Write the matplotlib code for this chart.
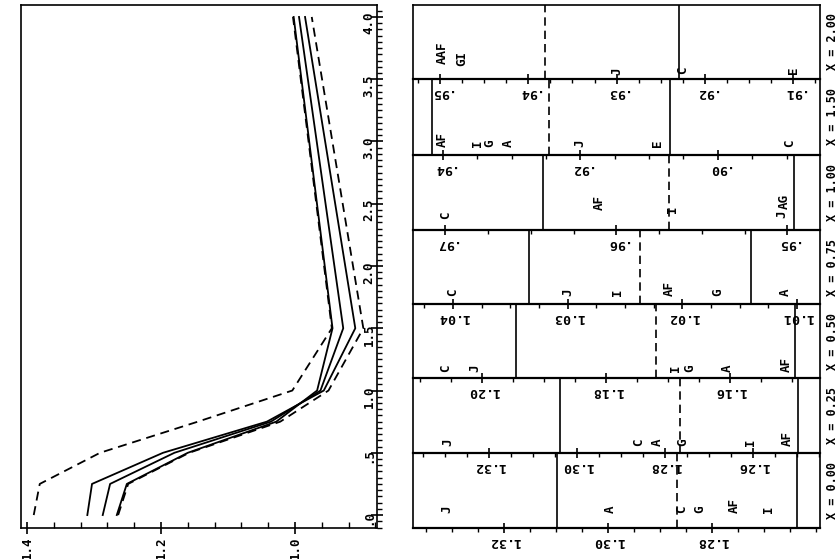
import matplotlib
matplotlib.use("Agg")
import matplotlib.pyplot as plt
from matplotlib.ticker import MultipleLocator, AutoMinorLocator, FixedLocator, FixedFormatter, FuncFormatter

plt.rcParams['font.family'] = ['DejaVu Sans Mono', 'DejaVu Sans']
plt.rcParams['font.weight'] = 'bold'

# ---------------- data: left panel ----------------
x_pos = [0.0, 0.25, 0.5, 0.75, 1.0, 1.5, 4.0]
dash_upper = [1.390, 1.381, 1.291, 1.145, 1.004, 0.945, 1.003]
curve_a = [1.310, 1.303, 1.197, 1.042, 0.957, 0.910, 0.985]
curve_b = [1.287, 1.276, 1.180, 1.036, 0.962, 0.928, 0.994]
curve_c = [1.266, 1.251, 1.160, 1.028, 0.967, 0.944, 1.002]
dash_lower = [1.264, 1.249, 1.158, 1.022, 0.950, 0.898, 0.975]
x_tick_values = [0.0, 0.5, 1.0, 1.5, 2.0, 2.5, 3.0, 3.5, 4.0]
x_tick_labels = [".0", ".5", "1.0", "1.5", "2.0", "2.5", "3.0", "3.5", "4.0"]
value_ticks = [1.4, 1.2, 1.0]
value_tick_labels = ["1.4", "1.2", "1.0"]

# ---------------- data: right panel (one strip per X) ----------------
strip_labels = ["X = 2.00", "X = 1.50", "X = 1.00", "X = 0.75", "X = 0.50", "X = 0.25", "X = 0.00"]

letters_200 = ["AAF", "GI", "J", "C", "E"]
values_200 = [0.9497, 0.9475, 0.9300, 0.9225, 0.9100]
dividers_200 = [0.9381, 0.9229]
ticks_200 = [0.95, 0.94, 0.93, 0.92, 0.91]

letters_150 = ["AF", "I", "G", "A", "J", "E", "C"]
values_150 = [0.9400, 0.9350, 0.9331, 0.9305, 0.9200, 0.9087, 0.8895]
dividers_150 = [0.9416, 0.9246, 0.9070]
ticks_150 = [0.94, 0.92, 0.90]

letters_100 = ["C", "AF", "I", "AG", "J"]
values_100 = [0.9700, 0.9610, 0.9567, 0.9502, 0.9503]
dividers_100 = [0.9643, 0.9569, 0.9496]
ticks_100 = [0.97, 0.96, 0.95]

letters_075 = ["C", "J", "I", "AF", "G", "A"]
values_075 = [1.0400, 1.0300, 1.0257, 1.0211, 1.0169, 1.0110]
dividers_075 = [1.0334, 1.0237, 1.0140]
ticks_075 = [1.04, 1.03, 1.02, 1.01]

letters_050 = ["C", "J", "I", "G", "A", "AF"]
values_050 = [1.2060, 1.2012, 1.1689, 1.1665, 1.1604, 1.1509]
dividers_050 = [1.1946, 1.1720, 1.1496]
ticks_050 = [1.20, 1.18, 1.16]

letters_025 = ["J", "C", "A", "G", "I", "AF"]
values_025 = [1.3294, 1.2860, 1.2817, 1.2758, 1.2606, 1.2522]
dividers_025 = [1.3038, 1.2765, 1.2497]
ticks_025 = [1.32, 1.30, 1.28, 1.26]

letters_000 = ["J", "A", "C", "G", "AF", "I"]
values_000 = [1.3310, 1.2996, 1.2858, 1.2823, 1.2756, 1.2692]
dividers_000 = [1.3098, 1.2867, 1.2637]
ticks_000 = [1.32, 1.30, 1.28]

# ---------------- layout ----------------
W, H = 840, 559
fig = plt.figure(figsize=(W / 100, H / 100), dpi=100)

def fig_rect(x0, y0, x1, y1):
    return [x0 / W, 1 - y1 / H, (x1 - x0) / W, (y1 - y0) / H]

# left panel (rotated line chart)
ax = fig.add_axes(fig_rect(21, 5, 377, 528))
solid_kw = dict(color='black', lw=1.3)
dash_kw = dict(color='black', lw=1.3, linestyle=(0, (5, 3.2)))
ax.plot(dash_upper, x_pos, **dash_kw)
ax.plot(curve_a, x_pos, **solid_kw)
ax.plot(curve_b, x_pos, **solid_kw)
ax.plot(curve_c, x_pos, **solid_kw)
ax.plot(dash_lower, x_pos, **dash_kw)
ax.set_xlim(1.409, 0.8776)
ax.set_ylim(-0.104, 4.096)
for s in ax.spines.values():
    s.set_linewidth(1.2)
ax.xaxis.set_major_locator(FixedLocator(value_ticks))
ax.xaxis.set_major_formatter(FixedFormatter(value_tick_labels))
ax.xaxis.set_minor_locator(MultipleLocator(0.04))
ax.yaxis.set_ticks_position('right')
ax.yaxis.set_major_locator(FixedLocator(x_tick_values))
ax.yaxis.set_major_formatter(FixedFormatter(x_tick_labels))
ax.yaxis.set_minor_locator(MultipleLocator(0.05))
ax.tick_params(axis='x', which='major', direction='inout', length=8, width=1.2,
               labelrotation=90, labelsize=9, pad=2)
ax.tick_params(axis='x', which='minor', direction='in', length=4, width=1.0)
ax.tick_params(axis='y', which='major', direction='inout', length=8, width=1.2,
               labelrotation=90, labelsize=9, pad=-14.5, right=True, left=False,
               labelright=True, labelleft=False)
ax.tick_params(axis='y', which='minor', direction='out', length=3.5, width=1.0,
               right=True, left=False)

# right panel strips
strips = [
    (letters_200, values_200, dividers_200, ticks_200),
    (letters_150, values_150, dividers_150, ticks_150),
    (letters_100, values_100, dividers_100, ticks_100),
    (letters_075, values_075, dividers_075, ticks_075),
    (letters_050, values_050, dividers_050, ticks_050),
    (letters_025, values_025, dividers_025, ticks_025),
    (letters_000, values_000, dividers_000, ticks_000),
]
strip_edges = [5, 79, 155, 230, 304, 378, 453, 528]
strip_xlims = [
    (0.95307, 0.90695),
    (0.94433, 0.88513),
    (0.97189, 0.94809),
    (1.04349, 1.0080),
    (1.2112, 1.1455),
    (1.3372, 1.2447),
    (1.3375, 1.2592),
]
divider_styles = [
    ['dashed', 'solid'],
    ['solid', 'dashed', 'solid'],
    ['solid', 'dashed', 'solid'],
    ['solid', 'dashed', 'solid'],
    ['solid', 'dashed', 'solid'],
    ['solid', 'dashed', 'solid'],
    ['solid', 'dashed', 'solid'],
]
# lift of each letter above the strip axis, in pixels
letter_lift = [
    [15, 13, 4, 5, 5],
    [8, 8, 8, 8, 8, 8, 8],
    [11, 20, 17, 21, 12],
    [8, 8, 8, 8, 8, 8],
    [6, 6, 6, 6, 6, 6],
    [7, 7, 7, 7, 7, 7],
    [15, 15, 15, 15, 15, 15],
]

def fmt(v, pos):
    s = f"{v:.2f}"
    return s[1:] if s.startswith("0") else s

for i, (letters, values, dividers, ticks) in enumerate(strips):
    y0, y1 = strip_edges[i], strip_edges[i + 1]
    sax = fig.add_axes(fig_rect(413, y0, 820, y1))
    sax.patch.set_visible(False)
    sax.set_xlim(*strip_xlims[i])
    sax.set_ylim(0, 1)
    sax.set_yticks([])
    for nm, s in sax.spines.items():
        s.set_linewidth(1.2)
    sax.spines['bottom'].set_linewidth(1.6)
    sax.xaxis.set_major_locator(FixedLocator(ticks))
    sax.xaxis.set_major_formatter(FuncFormatter(fmt))
    sax.xaxis.set_minor_locator(AutoMinorLocator(4))
    sax.tick_params(axis='x', which='major', direction='inout', length=7, width=1.2,
                    labelrotation=180, labelsize=9.5, pad=1.5)
    sax.tick_params(axis='x', which='minor', direction='out', length=3, width=1.0)
    for d, st in zip(dividers, divider_styles[i]):
        ls = '-' if st == 'solid' else (0, (5, 3))
        sax.axvline(d, color='black', lw=1.2, linestyle=ls)
    hpx = y1 - y0
    for j, (lt, v) in enumerate(zip(letters, values)):
        sax.text(v, letter_lift[i][j] / hpx, lt, rotation=90, ha='center', va='bottom',
                 fontsize=9, transform=sax.get_xaxis_transform())
    sax.text((826 - 413) / (820 - 413), 0.5, strip_labels[i], rotation=90,
             ha='left', va='center', fontsize=8.5, transform=sax.transAxes)

fig.savefig("out.png", dpi=100)
